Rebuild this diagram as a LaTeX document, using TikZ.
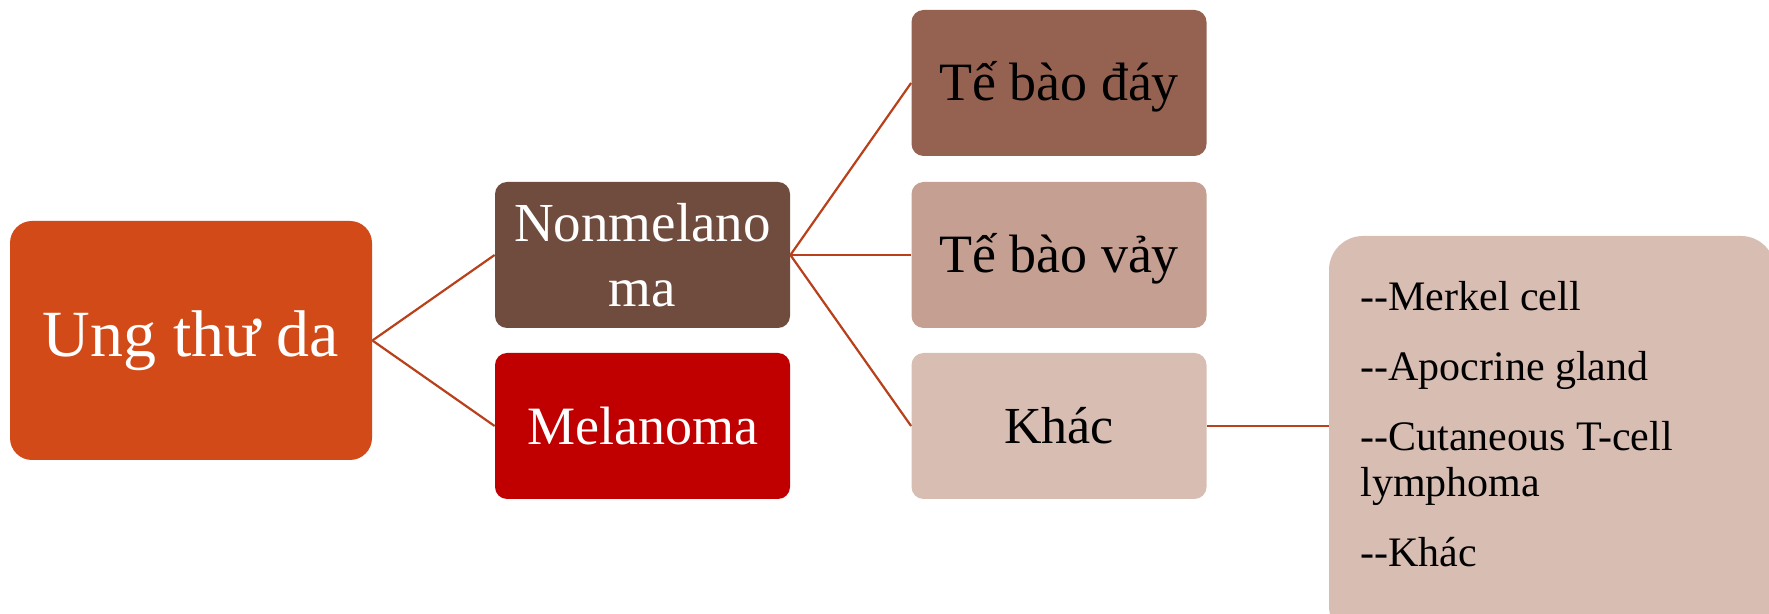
\documentclass[tikz,border=0pt]{standalone}
\usepackage{fontspec}
\setmainfont{Liberation Serif}
\definecolor{rootc}{HTML}{D24A18}
\definecolor{nonc}{HTML}{704C3E}
\definecolor{melc}{HTML}{C00000}
\definecolor{dayc}{HTML}{956252}
\definecolor{vayc}{HTML}{C59F91}
\definecolor{khacc}{HTML}{D8BDB3}
\definecolor{linec}{HTML}{B8401A}
\tikzset{
  box/.style={rounded corners=6pt, minimum width=147.5pt, minimum height=73pt, inner sep=0pt, align=center},
  conn/.style={draw=linec, line width=1.1pt},
}
\begin{document}
\begin{tikzpicture}[x=0.5pt,y=-0.5pt]
\useasboundingbox (0,0) rectangle (1769,614);
\clip (0,0) rectangle (1769,614);
\node[box, fill=rootc, rounded corners=11pt, minimum width=181pt, minimum height=119.5pt, text=white,
  font=\fontsize{33}{36}\selectfont] (root) at (191,340.5) {Ung thư da};
\node[box, fill=nonc, text=white, font=\fontsize{27.5}{32.5}\selectfont] (nonmel) at (642.5,255) {Nonmelano\\ma};
\node[box, fill=melc, text=white, font=\fontsize{27}{32}\selectfont] (mel) at (642.5,426) {Melanoma};
\node[box, fill=dayc, font=\fontsize{27}{32}\selectfont, text depth=2pt] (day) at (1059,83) {Tế bào đáy};
\node[box, fill=vayc, font=\fontsize{27}{32}\selectfont, text depth=2pt] (vay) at (1059,255) {Tế bào vảy};
\node[box, fill=khacc, font=\fontsize{26}{32}\selectfont] (khac) at (1059,426) {Khác};
\node[box, fill=khacc, rounded corners=17pt, minimum width=223pt, minimum height=202pt] (other) at (1552,438) {};
\node[anchor=north west, inner sep=0pt, align=left, font=\fontsize{21}{23}\selectfont] (lst) at (1360,281)
  {-\kern0pt-Merkel cell\\[12pt]-\kern0pt-Apocrine gland\\[12pt]-\kern0pt-Cutaneous T-cell\\lymphoma\\[12pt]-\kern0pt-Khác};
\draw[conn] (root.east) -- (nonmel.west);
\draw[conn] (root.east) -- (mel.west);
\draw[conn] (nonmel.east) -- (day.west);
\draw[conn] (nonmel.east) -- (vay.west);
\draw[conn] (nonmel.east) -- (khac.west);
\draw[conn] (khac.east) -- (khac.east -| other.west);
\end{tikzpicture}
\end{document}
